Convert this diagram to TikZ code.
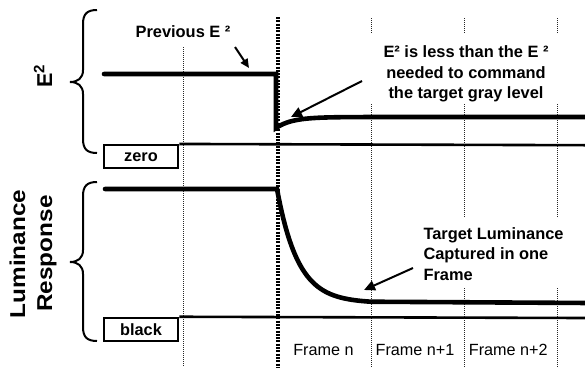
\documentclass[tikz,border=0pt]{standalone}
\usepackage{fontspec}
\setmainfont{Liberation Sans}
\usetikzlibrary{arrows.meta}
\begin{document}
\begin{tikzpicture}[x=1pt,y=-1pt,
  thickline/.style={line width=4.6pt,line cap=round,line join=miter},
  zeroline/.style={line width=2.6pt},
  griddot/.style={line width=0.7pt,dash pattern=on 1pt off 1pt,black!85},
  framedot/.style={line width=4pt,dash pattern=on 2pt off 1.3pt},
  bracestyle/.style={line width=2pt},
  boxstyle/.style={draw,line width=2.5pt,fill=white,minimum width=74pt,minimum height=23pt,inner sep=0pt,font=\fontsize{16.3}{19}\selectfont\bfseries},
  lbl/.style={font=\fontsize{16.4}{20.5}\selectfont\bfseries,inner sep=0pt},
  frm/.style={font=\fontsize{16.2}{19}\selectfont,inner sep=0pt},
  axislbl/.style={font=\fontsize{21.5}{24}\selectfont\bfseries,inner sep=0pt,rotate=90},
  pointer/.style={line width=2pt,-{Triangle[length=11pt,width=10pt]}},
  smallpointer/.style={line width=2pt,-{Triangle[length=9pt,width=8pt]}}
]
\useasboundingbox (0,0) rectangle (585,367);

% thin dotted grid lines
\draw[griddot] (183,47) -- (183,367);
\foreach \gx in {371,464,557} { \draw[griddot] (\gx,18) -- (\gx,33); }
\draw[griddot] (371,104) -- (371,367);
\foreach \gx in {464,557} { \draw[griddot] (\gx,104) -- (\gx,217); \draw[griddot] (\gx,288) -- (\gx,367); }

% zero / black boxes and baselines
\node[boxstyle] (zerobox) at (141,156.7) {zero};
\node[boxstyle] (blackbox) at (141,329.5) {black};
\coordinate (zeroend) at (585,145.2);
\coordinate (blackend) at (585,318);
\draw[zeroline] (zerobox.north east) -- (zeroend);
\draw[zeroline] (blackbox.north east) -- (blackend);

% E^2 trace
\draw[thickline] (104,74) -- (276,74) -- (276,128)
  -- plot[domain=0:95,samples=50] ({276+\x},{117+11*exp(-\x/16)}) -- (590,117);

% luminance trace
\draw[thickline] (105,189) -- (277,189)
  -- plot[domain=0:94,samples=60] ({277+\x},{303-114*exp(-\x/21)}) -- (590,303);

% frame boundary
\draw[framedot] (277.5,17) -- (277.5,367);

% braces
\draw[bracestyle] (97,10) .. controls (87,10) and (83,14) .. (83,24) -- (83,70)
  .. controls (83,78) and (78,82) .. (70,82)
  .. controls (78,82) and (83,86) .. (83,94) -- (83,139)
  .. controls (83,149) and (87,153) .. (97,153);
\draw[bracestyle] (97,182) .. controls (87,182) and (83,186) .. (83,196) -- (83,250)
  .. controls (83,258) and (78,262) .. (70,262)
  .. controls (78,262) and (83,266) .. (83,274) -- (83,327)
  .. controls (83,337) and (87,341) .. (97,341);

% axis labels
\node[axislbl,anchor=base west] (e2lbl) at (52,88) {E\textsuperscript{2}};
\node[axislbl,anchor=base] (lumlbl) at (25,254) {\scalebox{1.13}[1]{Luminance}};
\node[axislbl,anchor=base] (resplbl) at (52,253.5) {\scalebox{1.13}[1]{Response}};

% annotations
\node[lbl,anchor=base] (prev) at (183,37.3) {Previous E ²};
\coordinate (prevfrom) at (235,47);
\coordinate (prevto) at (249,68);
\draw[smallpointer] (prevfrom) -- (prevto);

\node[lbl,anchor=north,align=center] (less) at (466,45.5)
  {E² is less than the E ²\\needed to command\\the target gray level};
\coordinate (lessfrom) at (362,81);
\coordinate (lessto) at (291,117);
\draw[pointer] (lessfrom) -- (lessto);

\node[lbl,anchor=north west,align=left] (target) at (423.3,227.3)
  {Target Luminance\\Captured in one\\Frame};
\coordinate (targetfrom) at (413,268);
\coordinate (targetto) at (364,290);
\draw[pointer] (targetfrom) -- (targetto);

% frame labels
\node[frm,anchor=base] (fn) at (323.5,355) {Frame n};
\node[frm,anchor=base] (fn1) at (415,355) {Frame n+1};
\node[frm,anchor=base] (fn2) at (508.3,355) {Frame n+2};
\end{tikzpicture}
\end{document}
